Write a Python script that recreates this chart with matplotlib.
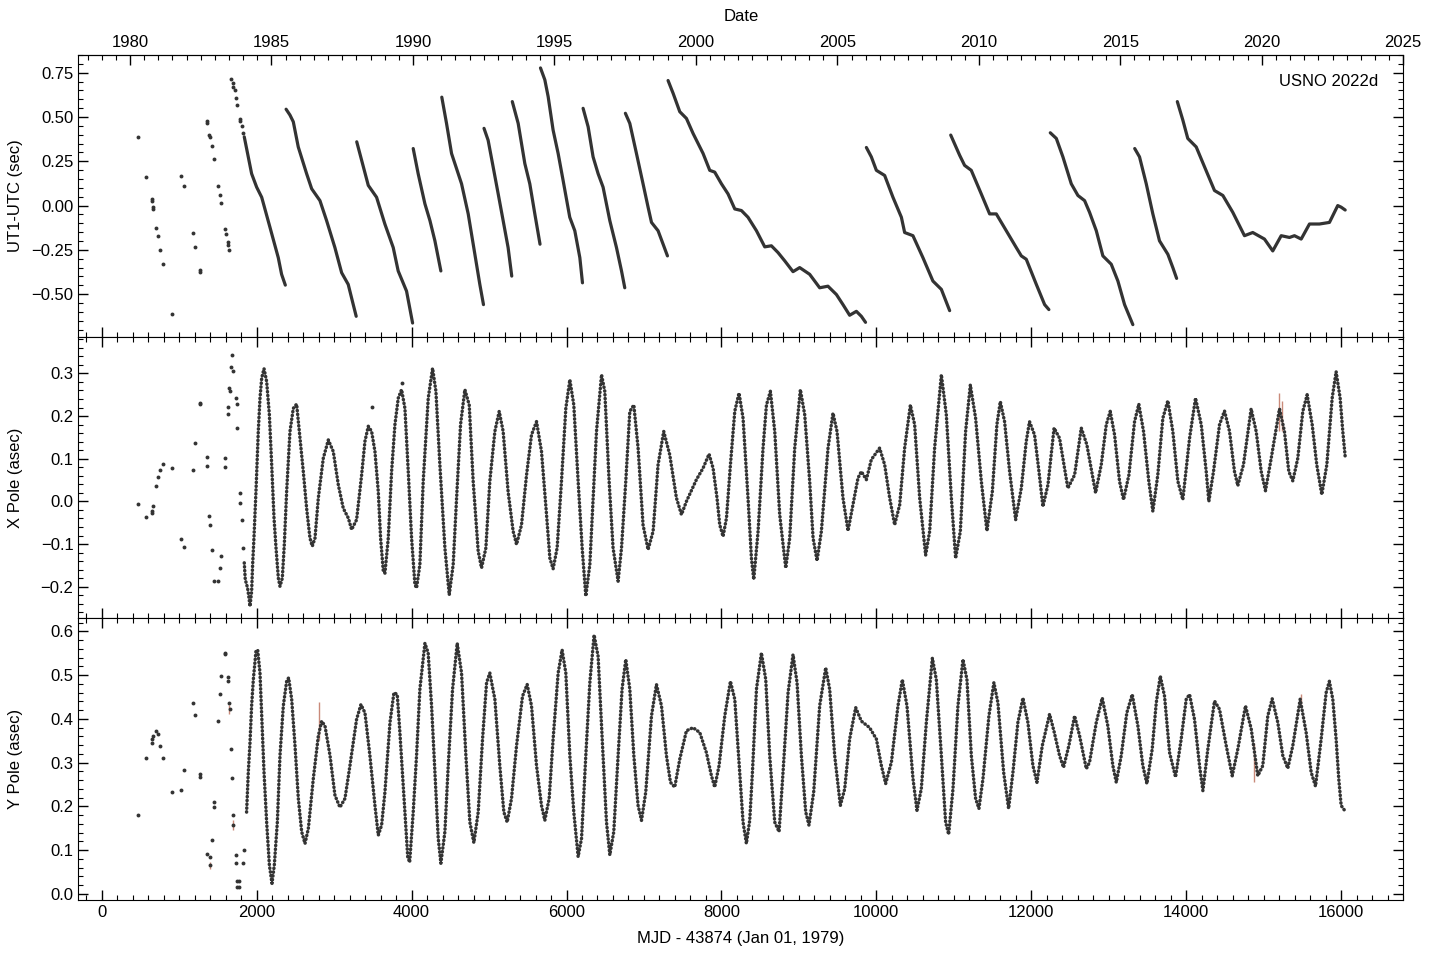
import matplotlib
matplotlib.use("Agg")
import matplotlib.pyplot as plt
from matplotlib.ticker import MultipleLocator, FixedLocator
import numpy as np

plt.rcParams['font.family'] = ['Liberation Sans', 'DejaVu Sans']
plt.rcParams['font.size'] = 12

DOT = '#333333'
ERR = '#c98a7a'

# leap second dates, days after MJD 43874
leap_days = [912, 1277, 1642, 2373, 3287, 4018, 4383, 4930, 5295, 5660, 6209,
             6756, 7305, 9862, 10958, 12235, 13330, 13880]

# ---- early sparse points (same epochs for all three series) ----
ut1_sparse_day = [473, 576, 649, 653, 662, 666, 705, 731, 756, 795, 911, 1027, 1066,
                  1182, 1208, 1272, 1275, 1363, 1365, 1390, 1395, 1427, 1453, 1505,
                  1530, 1543, 1591, 1604, 1626, 1634, 1647, 1668, 1690, 1700, 1715,
                  1733, 1746, 1785, 1790, 1806, 1827]
ut1_sparse_val = [0.385, 0.163, 0.035, 0.028, -0.010, -0.022, -0.127, -0.172, -0.252,
                  -0.331, -0.610, 0.169, 0.108, -0.155, -0.235, -0.365, -0.375, 0.477,
                  0.464, 0.398, 0.388, 0.339, 0.263, 0.112, 0.057, 0.015, -0.133,
                  -0.161, -0.206, -0.222, -0.250, 0.716, 0.690, 0.672, 0.653, 0.610,
                  0.566, 0.487, 0.475, 0.449, 0.411]

# UT1-UTC continuous series
ut1_day = [1840, 1935, 2000, 2065, 2172, 2279, 2322, 2370,
           2380, 2430, 2473, 2537, 2645, 2710, 2817, 2903, 3010, 3097, 3182, 3247, 3285,
           3292, 3355, 3441, 3548, 3655, 3763, 3827, 3935, 4013,
           4021, 4085, 4172, 4237, 4301, 4378,
           4390, 4451, 4516, 4581, 4645, 4731, 4817, 4881, 4928,
           4935, 4988, 5053, 5118, 5182, 5246, 5293,
           5300, 5376, 5462, 5526, 5591, 5658,
           5664, 5720, 5763, 5827, 5892, 5956, 6042, 6107, 6172, 6206,
           6214, 6279, 6343, 6408, 6472, 6559, 6645, 6710, 6752,
           6760, 6817, 6903, 6988, 7053, 7097, 7182, 7247, 7303,
           7311, 7376, 7462, 7548, 7634, 7763, 7849, 7913, 8000, 8085, 8172, 8258, 8343,
           8452, 8559, 8645, 8730, 8817, 8924, 9010, 9139, 9268, 9375, 9484, 9569, 9655,
           9742, 9806, 9860,
           9871, 9935, 10000, 10107, 10214, 10323, 10365, 10472, 10601, 10730, 10839, 10946,
           10960, 11075, 11139, 11225, 11354, 11462, 11548, 11677, 11806, 11871, 11935,
           12065, 12172, 12227,
           12245, 12323, 12408, 12516, 12602, 12688, 12752, 12839, 12924, 13032, 13118,
           13204, 13311,
           13335, 13397, 13484, 13569, 13655, 13763, 13827, 13876,
           13885, 13956, 14020, 14129, 14237, 14365, 14473, 14601, 14752, 14859, 15010,
           15117, 15226, 15333, 15397, 15484, 15591, 15720, 15849, 15956, 16000, 16052]
ut1_val = [0.388, 0.180, 0.104, 0.047, -0.123, -0.294, -0.388, -0.449,
           0.544, 0.511, 0.473, 0.331, 0.180, 0.095, 0.028, -0.085, -0.237, -0.379, -0.445,
           -0.559, -0.625,
           0.360, 0.256, 0.114, 0.047, -0.104, -0.237, -0.369, -0.483, -0.663,
           0.322, 0.180, 0.010, -0.085, -0.199, -0.369,
           0.612, 0.464, 0.294, 0.208, 0.123, -0.047, -0.275, -0.445, -0.559,
           0.436, 0.369, 0.218, 0.066, -0.085, -0.237, -0.398,
           0.587, 0.464, 0.237, 0.123, -0.047, -0.218,
           0.777, 0.710, 0.615, 0.426, 0.294, 0.142, -0.066, -0.142, -0.294, -0.436,
           0.549, 0.445, 0.275, 0.180, 0.104, -0.085, -0.237, -0.369, -0.464,
           0.521, 0.464, 0.294, 0.123, -0.009, -0.095, -0.142, -0.218, -0.284,
           0.706, 0.634, 0.530, 0.492, 0.407, 0.294, 0.199, 0.189, 0.123, 0.066, -0.019,
           -0.028, -0.066, -0.142, -0.233, -0.227, -0.265, -0.312, -0.373, -0.350, -0.388,
           -0.464, -0.455, -0.502, -0.559, -0.619, -0.597, -0.625, -0.659,
           0.328, 0.275, 0.199, 0.170, 0.047, -0.066, -0.152, -0.170, -0.294, -0.426,
           -0.473, -0.593,
           0.398, 0.284, 0.227, 0.199, 0.066, -0.047, -0.047, -0.142, -0.237, -0.284,
           -0.303, -0.445, -0.559, -0.587,
           0.411, 0.379, 0.275, 0.123, 0.057, 0.028, -0.038, -0.142, -0.284, -0.331,
           -0.426, -0.559, -0.672,
           0.322, 0.275, 0.123, -0.047, -0.199, -0.275, -0.350, -0.411,
           0.587, 0.483, 0.379, 0.331, 0.218, 0.085, 0.057, -0.038, -0.170, -0.152, -0.189,
           -0.256, -0.170, -0.180, -0.170, -0.189, -0.104, -0.104, -0.095, 0.000, -0.009,
           -0.025]

# X pole
xp_sparse_day = [473, 576, 649, 653, 666, 705, 731, 756, 795, 911, 1027, 1066, 1182,
                 1208, 1272, 1275, 1363, 1365, 1390, 1395, 1427, 1453, 1505, 1530, 1543,
                 1591, 1595, 1626, 1634, 1647, 1650, 1668, 1680, 1695, 1733, 1741, 1746,
                 1788, 1790, 1806, 1827, 3493, 3871]
xp_sparse_val = [-0.005, -0.036, -0.023, -0.027, -0.010, 0.037, 0.058, 0.074, 0.088,
                 0.078, -0.087, -0.108, 0.074, 0.137, 0.230, 0.228, 0.105, 0.083, -0.034,
                 -0.055, -0.115, -0.187, -0.186, -0.156, -0.127, 0.081, 0.102, 0.204,
                 0.221, 0.265, 0.259, 0.316, 0.343, 0.306, 0.242, 0.228, 0.172, 0.020,
                 -0.004, -0.043, -0.109, 0.222, 0.277]

xp_day = [1840, 1853, 1883, 1901, 1914, 1935, 1948, 1965, 1991, 2021, 2043, 2065, 2095,
          2129, 2164, 2194, 2224, 2250, 2280, 2301, 2331, 2357, 2387, 2430, 2473, 2516,
          2559, 2602, 2645, 2688, 2718, 2753, 2796, 2860, 2925, 2989, 3054, 3118, 3183,
          3226, 3290, 3355, 3398, 3441, 3484, 3527, 3570, 3600, 3635, 3656, 3699, 3742,
          3785, 3828, 3871, 3914, 3957, 4000, 4043, 4064, 4107, 4150, 4215, 4271, 4314,
          4365, 4430, 4486, 4537, 4581, 4632, 4688, 4744, 4795, 4860, 4903, 4959, 5010,
          5075, 5131, 5182, 5246, 5311, 5355, 5419, 5484, 5548, 5613, 5677, 5742, 5785,
          5827, 5879, 5935, 5991, 6043, 6094, 6150, 6202, 6249, 6301, 6344, 6387, 6452,
          6494, 6550, 6601, 6666, 6710, 6765, 6817, 6869, 6924, 6988, 7053, 7118, 7182,
          7255, 7333, 7419, 7484, 7548, 7677, 7763, 7840, 7892, 7943, 7978, 8021, 8065,
          8116, 8172, 8227, 8279, 8343, 8387, 8417, 8473, 8537, 8581, 8632, 8688, 8752,
          8830, 8881, 8946, 9019, 9075, 9139, 9183, 9234, 9290, 9376, 9440, 9492, 9569,
          9634, 9698, 9763, 9806, 9871, 9935, 10042, 10107, 10172, 10236, 10301, 10365,
          10439, 10494, 10559, 10636, 10688, 10752, 10839, 10903, 10968, 11023, 11084,
          11152, 11213, 11281, 11355, 11427, 11497, 11556, 11600, 11655, 11720, 11798,
          11871, 11935, 11977, 12042, 12099, 12150, 12215, 12294, 12365, 12472, 12559,
          12645, 12717, 12830, 12903, 12968, 13019, 13075, 13139, 13191, 13260, 13333,
          13388, 13449, 13517, 13569, 13633, 13698, 13763, 13827, 13892, 13956, 14043,
          14120, 14194, 14258, 14292, 14352, 14430, 14494, 14559, 14623, 14666, 14739,
          14838, 14903, 14968, 15023, 15097, 15204, 15268, 15324, 15376, 15440, 15505,
          15561, 15626, 15685, 15750, 15815, 15884, 15935, 15987, 16021, 16052]
xp_val = [-0.144, -0.183, -0.203, -0.226, -0.246, -0.211, -0.148, -0.086, 0.023, 0.164,
          0.242, 0.289, 0.311, 0.281, 0.203, 0.086, -0.039, -0.109, -0.180, -0.199,
          -0.180, -0.101, 0.023, 0.164, 0.218, 0.228, 0.148, 0.070, -0.016, -0.086,
          -0.105, -0.086, 0.008, 0.101, 0.144, 0.117, 0.039, -0.016, -0.039, -0.066,
          -0.043, 0.062, 0.141, 0.176, 0.164, 0.117, 0.023, -0.086, -0.164, -0.168,
          -0.086, 0.070, 0.180, 0.242, 0.262, 0.218, 0.070, -0.086, -0.195, -0.203,
          -0.148, 0.047, 0.242, 0.312, 0.258, 0.086, -0.109, -0.219, -0.148, 0.008,
          0.180, 0.262, 0.226, 0.047, -0.117, -0.156, -0.109, 0.047, 0.164, 0.211,
          0.164, 0.023, -0.070, -0.101, -0.055, 0.062, 0.156, 0.187, 0.117, -0.031,
          -0.133, -0.158, -0.109, 0.047, 0.218, 0.285, 0.226, 0.047, -0.109, -0.222,
          -0.148, 0.008, 0.164, 0.297, 0.258, 0.047, -0.109, -0.187, -0.109, 0.047,
          0.211, 0.226, 0.125, -0.055, -0.113, -0.070, 0.086, 0.164, 0.109, 0.008,
          -0.031, 0.000, 0.051, 0.078, 0.111, 0.078, 0.008, -0.055, -0.082, -0.039,
          0.086, 0.211, 0.254, 0.195, 0.008, -0.133, -0.183, -0.070, 0.125, 0.226,
          0.258, 0.164, -0.031, -0.156, -0.086, 0.125, 0.262, 0.203, 0.047, -0.086,
          -0.139, -0.070, 0.125, 0.207, 0.164, 0.008, -0.069, -0.008, 0.055, 0.070,
          0.051, 0.098, 0.125, 0.086, 0.008, -0.055, -0.008, 0.125, 0.226, 0.180, 0.008,
          -0.126, -0.070, 0.125, 0.297, 0.203, 0.008, -0.133, -0.070, 0.164, 0.273,
          0.195, 0.047, -0.069, 0.023, 0.180, 0.234, 0.187, 0.070, -0.043, 0.031, 0.141,
          0.187, 0.156, 0.070, -0.012, 0.039, 0.172, 0.148, 0.031, 0.062, 0.172, 0.133,
          0.020, 0.086, 0.180, 0.211, 0.156, 0.047, 0.004, 0.062, 0.187, 0.228, 0.164,
          0.047, -0.023, 0.062, 0.195, 0.236, 0.164, 0.047, 0.004, 0.148, 0.242, 0.180,
          0.070, 0.000, 0.070, 0.180, 0.212, 0.164, 0.070, 0.037, 0.086, 0.217, 0.164,
          0.070, 0.025, 0.101, 0.217, 0.164, 0.070, 0.048, 0.101, 0.211, 0.250, 0.180,
          0.086, 0.016, 0.086, 0.242, 0.304, 0.242, 0.164, 0.105]

xp_err_day = [15204, 15230]
xp_err_val = [0.210, 0.200]
xp_err = [0.045, 0.035]

# Y pole
yp_sparse_day = [473, 576, 649, 653, 666, 705, 731, 756, 795, 911, 1027, 1066, 1182,
                 1208, 1272, 1275, 1363, 1393, 1397, 1427, 1453, 1455, 1505, 1530, 1543,
                 1591, 1595, 1626, 1634, 1647, 1650, 1668, 1680, 1695, 1697, 1733, 1737,
                 1748, 1752, 1772, 1777, 1823, 1840]
yp_sparse_val = [0.181, 0.310, 0.346, 0.354, 0.361, 0.372, 0.365, 0.338, 0.311, 0.233,
                 0.238, 0.284, 0.436, 0.409, 0.274, 0.267, 0.092, 0.085, 0.066, 0.123,
                 0.210, 0.198, 0.395, 0.458, 0.499, 0.551, 0.549, 0.496, 0.486, 0.437,
                 0.422, 0.331, 0.264, 0.181, 0.157, 0.089, 0.070, 0.030, 0.016, 0.030,
                 0.016, 0.070, 0.100]

yp_day = [1870, 1892, 1914, 1935, 1957, 1991, 2013, 2043, 2065, 2095, 2129, 2164, 2198,
          2228, 2267, 2301, 2344, 2387, 2413, 2452, 2495, 2538, 2581, 2624, 2667, 2731,
          2796, 2839, 2882, 2947, 3011, 3075, 3140, 3204, 3290, 3346, 3398, 3462, 3527,
          3570, 3613, 3656, 3721, 3772, 3815, 3849, 3914, 3950, 3975, 4021, 4064, 4107,
          4172, 4214, 4258, 4301, 4344, 4378, 4430, 4473, 4529, 4589, 4645, 4701, 4752,
          4804, 4860, 4916, 4968, 5010, 5075, 5139, 5191, 5234, 5290, 5355, 5432, 5492,
          5548, 5613, 5677, 5720, 5776, 5827, 5892, 5943, 5991, 6043, 6094, 6150, 6194,
          6249, 6301, 6356, 6408, 6465, 6516, 6559, 6610, 6666, 6717, 6765, 6817, 6869,
          6924, 6968, 7023, 7097, 7161, 7226, 7290, 7342, 7397, 7462, 7548, 7634, 7720,
          7806, 7871, 7913, 7969, 8043, 8116, 8172, 8236, 8279, 8322, 8365, 8400, 8452,
          8516, 8572, 8623, 8688, 8744, 8795, 8860, 8924, 8976, 9032, 9088, 9130, 9191,
          9268, 9346, 9397, 9462, 9535, 9591, 9655, 9733, 9806, 9913, 10000, 10065,
          10120, 10194, 10279, 10335, 10395, 10473, 10524, 10580, 10645, 10723, 10774,
          10839, 10894, 10933, 10989, 11053, 11118, 11169, 11226, 11281, 11324, 11376,
          11453, 11517, 11569, 11643, 11707, 11763, 11827, 11892, 11956, 12021, 12073,
          12142, 12236, 12297, 12365, 12416, 12485, 12559, 12624, 12710, 12752, 12839,
          12916, 12988, 13053, 13097, 13161, 13233, 13303, 13376, 13440, 13492, 13561,
          13613, 13665, 13720, 13785, 13862, 13935, 14000, 14043, 14107, 14172, 14215,
          14279, 14365, 14430, 14516, 14594, 14666, 14765, 14839, 14924, 14988, 15053,
          15110, 15182, 15247, 15311, 15376, 15471, 15548, 15613, 15669, 15742, 15806,
          15848, 15892, 15935, 15969, 16000, 16052]
yp_val = [0.187, 0.278, 0.346, 0.430, 0.490, 0.555, 0.558, 0.505, 0.407, 0.278, 0.164,
          0.066, 0.024, 0.066, 0.164, 0.316, 0.430, 0.486, 0.494, 0.445, 0.339, 0.218,
          0.142, 0.115, 0.149, 0.263, 0.361, 0.395, 0.384, 0.316, 0.225, 0.198, 0.218,
          0.293, 0.399, 0.433, 0.414, 0.316, 0.202, 0.134, 0.157, 0.233, 0.392, 0.460,
          0.456, 0.369, 0.187, 0.085, 0.072, 0.187, 0.316, 0.468, 0.573, 0.551, 0.430,
          0.278, 0.127, 0.070, 0.142, 0.293, 0.468, 0.573, 0.505, 0.316, 0.164, 0.117,
          0.187, 0.354, 0.483, 0.505, 0.445, 0.293, 0.187, 0.164, 0.218, 0.339, 0.452,
          0.479, 0.430, 0.293, 0.202, 0.168, 0.218, 0.354, 0.505, 0.558, 0.505, 0.316,
          0.187, 0.085, 0.127, 0.316, 0.483, 0.592, 0.543, 0.339, 0.164, 0.089, 0.142,
          0.316, 0.468, 0.536, 0.468, 0.316, 0.202, 0.168, 0.233, 0.407, 0.479, 0.430,
          0.316, 0.255, 0.244, 0.308, 0.373, 0.380, 0.369, 0.323, 0.270, 0.244, 0.293,
          0.407, 0.486, 0.445, 0.278, 0.164, 0.115, 0.168, 0.278, 0.468, 0.551, 0.490,
          0.316, 0.164, 0.142, 0.278, 0.460, 0.547, 0.483, 0.316, 0.187, 0.157, 0.233,
          0.430, 0.517, 0.468, 0.316, 0.202, 0.240, 0.354, 0.426, 0.395, 0.380, 0.354,
          0.293, 0.252, 0.301, 0.430, 0.490, 0.430, 0.263, 0.191, 0.240, 0.392, 0.539,
          0.490, 0.316, 0.164, 0.136, 0.240, 0.430, 0.536, 0.490, 0.316, 0.218, 0.195,
          0.263, 0.407, 0.483, 0.437, 0.278, 0.195, 0.278, 0.392, 0.448, 0.392, 0.293,
          0.255, 0.339, 0.411, 0.369, 0.316, 0.289, 0.339, 0.407, 0.361, 0.286, 0.301,
          0.392, 0.448, 0.384, 0.293, 0.255, 0.316, 0.414, 0.456, 0.384, 0.293, 0.252,
          0.331, 0.437, 0.498, 0.452, 0.323, 0.267, 0.354, 0.445, 0.456, 0.399, 0.293,
          0.236, 0.331, 0.441, 0.422, 0.339, 0.270, 0.331, 0.430, 0.377, 0.270, 0.293,
          0.407, 0.446, 0.392, 0.316, 0.287, 0.339, 0.445, 0.369, 0.278, 0.246, 0.354,
          0.460, 0.486, 0.445, 0.354, 0.263, 0.202, 0.189]

yp_err_day = [1397, 1647, 1690, 2808, 14881, 15484]
yp_err_val = [0.066, 0.422, 0.157, 0.395, 0.300, 0.445]
yp_err = [0.008, 0.010, 0.012, 0.043, 0.044, 0.012]


def plot_dense(ax, days, vals, breaks=None, style='-', lw=2.5):
    # draw the series; a new run starts after each leap second
    days = np.asarray(days)
    vals = np.asarray(vals)
    if breaks is None:
        runs = np.zeros(len(days), dtype=int)
    else:
        runs = np.searchsorted(breaks, days)
    for r in np.unique(runs):
        m = runs == r
        ax.plot(days[m], vals[m], color=DOT, lw=lw, linestyle=style,
                dash_capstyle='round', solid_capstyle='round',
                solid_joinstyle='round', zorder=3)


def plot_sparse(ax, days, vals):
    ax.plot(days, vals, 'o', color=DOT, markersize=2.8, markeredgewidth=0, zorder=3)


def style_axis(ax, major, minor):
    ax.yaxis.set_major_locator(MultipleLocator(major))
    ax.yaxis.set_minor_locator(MultipleLocator(minor))
    ax.xaxis.set_major_locator(MultipleLocator(2000))
    ax.xaxis.set_minor_locator(MultipleLocator(200))
    ax.tick_params(which='both', direction='in', right=True, top=True)
    ax.tick_params(which='major', length=7, width=1)
    ax.tick_params(which='minor', length=3.5, width=0.8)


fig, axes = plt.subplots(3, 1, figsize=(14.4, 9.6), dpi=100, sharex=True)
plt.subplots_adjust(left=0.0544, right=0.9745, top=0.9427, bottom=0.0625, hspace=0)
ax1, ax2, ax3 = axes

# UT1-UTC
plot_sparse(ax1, ut1_sparse_day, ut1_sparse_val)
plot_dense(ax1, ut1_day, ut1_val, leap_days, lw=2.3)
ax1.set_ylim(-0.74, 0.85)
ax1.set_ylabel('UT1-UTC (sec)')
style_axis(ax1, 0.25, 0.05)
ax1.tick_params(which='both', top=False)
ax1.text(0.981, 0.905, 'USNO 2022d', transform=ax1.transAxes, ha='right', va='center')

# calendar axis on top
top = ax1.secondary_xaxis('top', functions=(lambda d: 1979.0 + d / 365.25,
                                            lambda y: (y - 1979.0) * 365.25))
top.xaxis.set_major_locator(FixedLocator(np.arange(1980, 2026, 5)))
top.xaxis.set_minor_locator(FixedLocator(np.arange(1978.5, 2025.1, 0.5)))
top.tick_params(which='both', direction='in')
top.tick_params(which='major', length=7, width=1)
top.tick_params(which='minor', length=3.5, width=0.8)
top.set_xlabel('Date', labelpad=10)

# X pole
ax2.errorbar(xp_err_day, xp_err_val, yerr=xp_err, fmt='none', ecolor=ERR, elinewidth=1,
             zorder=2)
plot_sparse(ax2, xp_sparse_day, xp_sparse_val)
plot_dense(ax2, xp_day, xp_val, style=(0, (0.1, 1.0)))
ax2.set_ylim(-0.274, 0.386)
ax2.set_ylabel('X Pole (asec)')
style_axis(ax2, 0.1, 0.02)

# Y pole
ax3.errorbar(yp_err_day, yp_err_val, yerr=yp_err, fmt='none', ecolor=ERR, elinewidth=1,
             zorder=2)
plot_sparse(ax3, yp_sparse_day, yp_sparse_val)
plot_dense(ax3, yp_day, yp_val, style=(0, (0.1, 1.0)))
ax3.set_ylim(-0.014, 0.63)
ax3.set_ylabel('Y Pole (asec)')
style_axis(ax3, 0.1, 0.02)
ax3.set_xlabel('MJD - 43874 (Jan 01, 1979)', labelpad=8)

ax3.set_xlim(-302, 16802)

for ax in axes:
    ax.yaxis.set_label_coords(-0.042, 0.5)

plt.savefig('out.png', dpi=100)
